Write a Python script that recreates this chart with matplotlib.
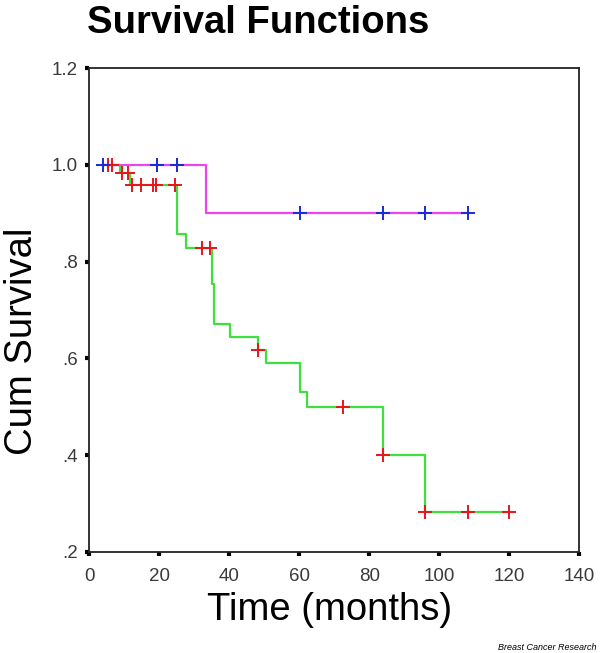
import matplotlib

matplotlib.use("Agg")
import matplotlib.pyplot as plt
import numpy as np

plt.rcParams["font.family"] = ["Liberation Sans", "DejaVu Sans"]

# group 1 (magenta line, blue censor marks)
g1_event_times = [4.0, 33.3]
g1_survival = [1.0, 0.90]
g1_end = 108.0
g1_censor_times = [4.0, 19.3, 25.1, 60.2, 84.0, 96.0, 108.2]

# group 2 (green line, red censor marks)
g2_event_times = [4.0, 8.8, 11.7, 25.1, 27.5, 35.1, 35.7, 40.2, 48.3, 50.5, 60.2, 62.1, 84.0, 95.9]
g2_survival = [1.0, 0.983, 0.958, 0.857, 0.829, 0.753, 0.672, 0.645, 0.617, 0.590, 0.531, 0.500, 0.400, 0.282]
g2_end = 120.0
g2_censor_times = [5.4, 6.6, 9.3, 11.2, 12.1, 14.7, 18.3, 19.1, 24.5, 32.1, 34.6,
                   48.3, 72.4, 84.0, 95.9, 108.3, 120.0]

x_ticks = [0, 20, 40, 60, 80, 100, 120, 140]
y_ticks = [0.2, 0.4, 0.6, 0.8, 1.0, 1.2]
y_tick_labels = [".2", ".4", ".6", ".8", "1.0", "1.2"]


def _surv_at(times, surv, t):
    """Step-function value at time t (right-continuous)."""
    idx = np.searchsorted(times, t, side="right") - 1
    return np.asarray(surv)[np.clip(idx, 0, None)]


def _draw(ax, times, surv, end, censors, line_color, mark_color):
    xs = list(times) + [end]
    ys = list(surv) + [surv[-1]]
    ax.step(xs, ys, where="post", color=line_color, lw=1.6, zorder=2)
    cy = _surv_at(times, surv, np.asarray(censors))
    ax.plot(censors, cy, ls="none", marker="+", ms=10, mew=1.4,
            color=mark_color, zorder=3)


fig = plt.figure(figsize=(6.0, 6.53), dpi=100)
ax = fig.add_axes([0.1488, 0.1551, 0.8167, 0.7403])

_draw(ax, g2_event_times, g2_survival, g2_end, g2_censor_times, "#3ee03e", "#e8141e")
_draw(ax, g1_event_times, g1_survival, g1_end, g1_censor_times, "#ee44ee", "#1a2ad8")

ax.set_xlim(0, 140)
ax.set_ylim(0.2, 1.2)
ax.set_xticks(x_ticks)
ax.set_yticks(y_ticks)
ax.set_yticklabels(y_tick_labels)
ax.tick_params(direction="out", length=3, width=3, color="black",
               labelsize=13.5, labelcolor="#3a3a3a")
ax.tick_params(axis="x", pad=9)
ax.tick_params(axis="y", pad=5)
for s in ax.spines.values():
    s.set_linewidth(1.3)
    s.set_color("#222222")

ax.set_xlabel("Time (months)", fontsize=27.5, va="center")
ax.set_ylabel("Cum Survival", fontsize=27.5, va="center")
ax.xaxis.set_label_coords(0.49, -0.12)
ax.yaxis.set_label_coords(-0.137, 0.436)

fig.text(0.145, 0.965, "Survival Functions", fontsize=27.5, fontweight="bold",
         ha="left", va="center")
fig.text(0.995, 0.001, "Breast Cancer Research", fontsize=6.5, style="italic",
         ha="right", va="bottom")

fig.savefig("out.png", dpi=100)
